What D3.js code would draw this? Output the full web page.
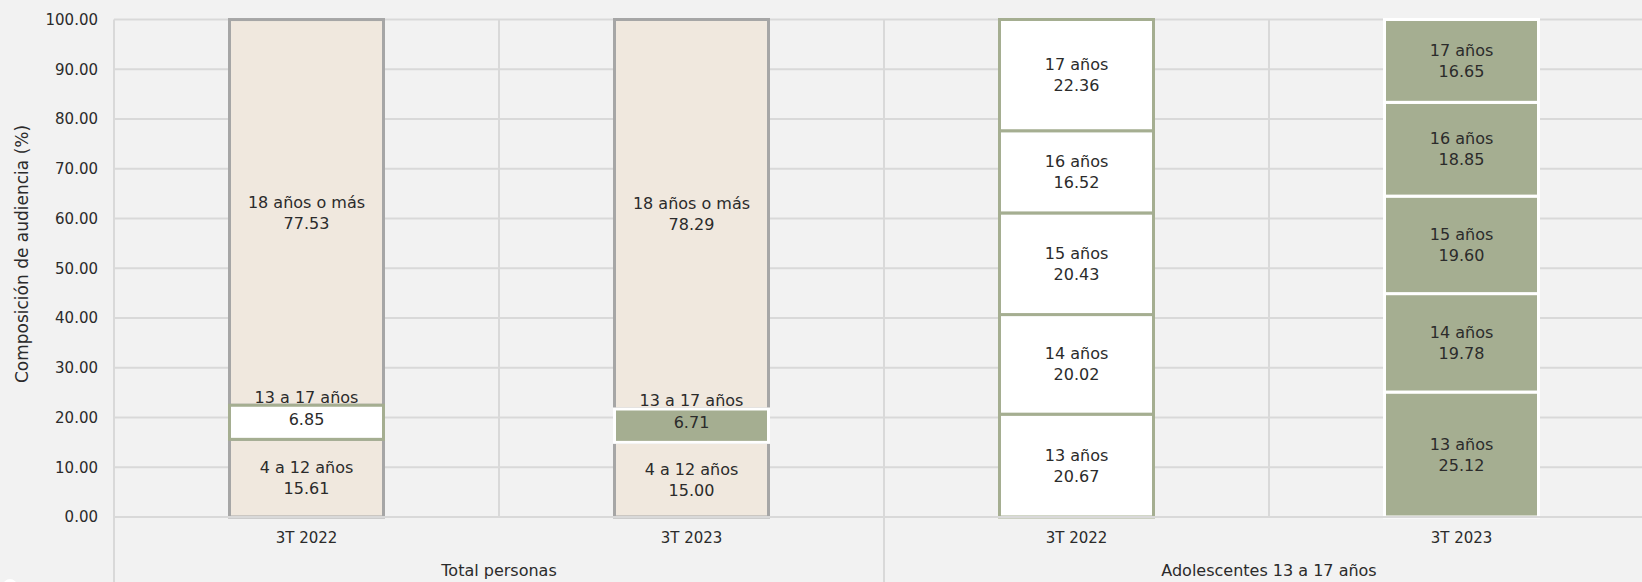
<!DOCTYPE html>
<html>
<head>
<meta charset="utf-8">
<script src="https://cdn.jsdelivr.net/npm/d3@7"></script>
<style>
	html, body { margin: 0; padding: 0; background: #f2f2f2; }
	svg { display: block; font-family: "DejaVu Sans", sans-serif; }
	text { fill: #2b2b2b; }
</style>
</head>
<body>
<div id="chart"></div>
<script>
// data
var groups = ["Total personas", "Adolescentes 13 a 17 años"];
var periods = ["3T 2022", "3T 2023"];
var totalNames = ["4 a 12 años", "13 a 17 años", "18 años o más"];
var total2022 = [15.61, 6.85, 77.53];
var total2023 = [15.00, 6.71, 78.29];
var teenNames = ["13 años", "14 años", "15 años", "16 años", "17 años"];
var teen2022 = [20.67, 20.02, 20.43, 16.52, 22.36];
var teen2023 = [25.12, 19.78, 19.60, 18.85, 16.65];
var yTicks = [0, 10, 20, 30, 40, 50, 60, 70, 80, 90, 100];
var yTitle = "Composición de audiencia (%)";

var width = 1642, height = 582;
var margin = { top: 19.5, left: 114, bottom: 65 };
var plotBottom = height - margin.bottom;

var beige = "#f0e8de", grey = "#a6a6a6", green = "#a5ae91", white = "#ffffff";

// one column per group/period
var columns = [];
groups.forEach(function(g, gi) {
	periods.forEach(function(p, pi) {
		var names = gi == 0 ? totalNames : teenNames;
		var vals = gi == 0 ? [total2022, total2023][pi] : [teen2022, teen2023][pi];
		var y0 = 0;
		columns.push({
			key: g + "|" + p, group: g, period: p, gi: gi, pi: pi,
			segs: names.map(function(n, i) {
				var s = { name: n, value: vals[i], y0: y0, y1: y0 + vals[i], i: i };
				y0 += vals[i];
				return s;
			})
		});
	});
});

var x = d3.scaleBand()
	.domain(columns.map(function(d) { return d.key; }))
	.range([margin.left, 1654])
	.paddingInner(0.6)
	.paddingOuter(0.3);

var y = d3.scaleLinear().domain([0, 100]).range([plotBottom, margin.top]);

var svg = d3.select("#chart").append("svg")
	.attr("width", width)
	.attr("height", height);

var gap = (x.step() - x.bandwidth()) / 2;
function colLeft(k) { return x(k) - gap; }

// gridlines
svg.append("g").selectAll("line")
	.data(yTicks).enter().append("line")
	.attr("x1", margin.left).attr("x2", width)
	.attr("y1", function(d) { return y(d); })
	.attr("y2", function(d) { return y(d); })
	.attr("stroke", "#d9d9d9").attr("stroke-width", 2);

svg.append("g").selectAll("line")
	.data(columns).enter().append("line")
	.attr("x1", function(d) { return colLeft(d.key); })
	.attr("x2", function(d) { return colLeft(d.key); })
	.attr("y1", margin.top)
	.attr("y2", function(d) { return d.pi == 0 ? height : plotBottom; })
	.attr("stroke", "#d9d9d9").attr("stroke-width", 2);

// y axis labels
svg.append("g").selectAll("text")
	.data(yTicks).enter().append("text")
	.attr("x", 98).attr("y", function(d) { return y(d); })
	.attr("dy", "0.35em")
	.attr("text-anchor", "end")
	.style("font-size", "15px")
	.text(d3.format(".2f"));

svg.append("text")
	.attr("transform", "translate(22," + 254 + ") rotate(-90)")
	.attr("text-anchor", "middle")
	.attr("dy", "0.35em")
	.style("font-size", "17px")
	.text(yTitle);

// segment styles
function segStyle(col, s) {
	if (col.gi == 0 && s.i != 1) return { fill: beige, stroke: grey };
	if (col.pi == 0) return { fill: white, stroke: green };
	return { fill: green, stroke: white };
}

var bars = svg.append("g").selectAll("g")
	.data(columns).enter().append("g");

bars.each(function(col) {
	var g = d3.select(this);
	// highlighted segments drawn last so their border sits on top
	var order = col.segs.slice().sort(function(a, b) {
		return (segStyle(col, a).fill == beige ? 0 : 1) - (segStyle(col, b).fill == beige ? 0 : 1);
	});
	g.selectAll("rect").data(order).enter().append("rect")
		.attr("x", x(col.key))
		.attr("width", x.bandwidth())
		.attr("y", function(s) { return y(s.y1); })
		.attr("height", function(s) { return y(s.y0) - y(s.y1); })
		.attr("fill", function(s) { return segStyle(col, s).fill; })
		.attr("stroke", function(s) { return segStyle(col, s).stroke; })
		.attr("stroke-width", 3);

	var cx = x(col.key) + x.bandwidth() / 2;
	col.segs.forEach(function(s) {
		var cy = y((s.y0 + s.y1) / 2);
		var small = (y(s.y0) - y(s.y1)) < 40;
		var nameY = small ? cy - 25 : cy - 10.5;
		var valY = small ? cy - 3 : cy + 10.5;
		g.append("text").attr("x", cx).attr("y", nameY).attr("dy", "0.35em")
			.attr("text-anchor", "middle").style("font-size", "16px").text(s.name);
		g.append("text").attr("x", cx).attr("y", valY).attr("dy", "0.35em")
			.attr("text-anchor", "middle").style("font-size", "16px").text(d3.format(".2f")(s.value));
	});
});

// x axis line
svg.append("line")
	.attr("x1", margin.left).attr("x2", width)
	.attr("y1", plotBottom).attr("y2", plotBottom)
	.attr("stroke", "#d9d9d9").attr("stroke-width", 2);

// period labels
svg.append("g").selectAll("text")
	.data(columns).enter().append("text")
	.attr("x", function(d) { return x(d.key) + x.bandwidth() / 2; })
	.attr("y", 538).attr("dy", "0.35em")
	.attr("text-anchor", "middle")
	.style("font-size", "15px")
	.text(function(d) { return d.period; });

// group labels
svg.append("g").selectAll("text")
	.data(groups).enter().append("text")
	.attr("x", function(g) {
		var ks = columns.filter(function(c) { return c.group == g; });
		return (colLeft(ks[0].key) + colLeft(ks[1].key) + x.step()) / 2;
	})
	.attr("y", 570).attr("dy", "0.35em")
	.attr("text-anchor", "middle")
	.style("font-size", "16px")
	.text(function(g) { return g; });

svg.append("circle").attr("cx", 10).attr("cy", 586).attr("r", 7).attr("fill", white);
</script>
</body>
</html>
